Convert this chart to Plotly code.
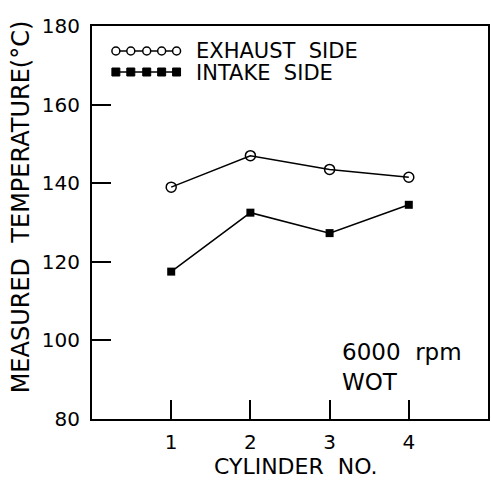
import plotly.graph_objects as go

cylinders = [1, 2, 3, 4]
exhaust_side = [139.0, 147.0, 143.5, 141.5]
intake_side = [117.5, 132.5, 127.3, 134.5]
y_ticks = [80, 100, 120, 140, 160, 180]
x_ticks = [1, 2, 3, 4]

FONT = "DejaVu Sans"
NB = "\u00a0"
fig = go.Figure()
fig.add_trace(go.Scatter(x=cylinders, y=exhaust_side, mode="lines+markers",
                         line=dict(color="black", width=1.5),
                         marker=dict(symbol="circle-open", size=10, color="black", line=dict(width=1.5)),
                         showlegend=False))
fig.add_trace(go.Scatter(x=cylinders, y=intake_side, mode="lines+markers",
                         line=dict(color="black", width=1.5),
                         marker=dict(symbol="square", size=8, color="black"),
                         showlegend=False))

L, R, T, B = 92, 490, 26, 419
def px_x(x):
    return (x - L) / (R - L)
def px_y(y):
    return 1 - (y - T) / (B - T)

shapes = []
for yy, kind in [(51, "circle"), (72, "square")]:
    shapes.append(dict(type="line", xref="paper", yref="paper",
                       x0=px_x(114), x1=px_x(180), y0=px_y(yy), y1=px_y(yy),
                       line=dict(color="black", width=1.5)))
    for cx in [116, 131, 147, 162, 177]:
        if kind == "circle":
            shapes.append(dict(type="circle", xref="paper", yref="paper",
                               x0=px_x(cx - 4), x1=px_x(cx + 4), y0=px_y(yy - 4), y1=px_y(yy + 4),
                               line=dict(color="black", width=1.5), fillcolor="white"))
        else:
            shapes.append(dict(type="rect", xref="paper", yref="paper",
                               x0=px_x(cx - 4), x1=px_x(cx + 4), y0=px_y(yy - 4), y1=px_y(yy + 4),
                               line=dict(color="black", width=1), fillcolor="black"))

annotations = [
    dict(text=f"EXHAUST{NB}{NB}SIDE", xref="paper", yref="paper", x=px_x(195), y=px_y(51),
         xanchor="left", yanchor="middle", showarrow=False, font=dict(size=21, color="black", family=FONT)),
    dict(text=f"INTAKE{NB}{NB}SIDE", xref="paper", yref="paper", x=px_x(195), y=px_y(73),
         xanchor="left", yanchor="middle", showarrow=False, font=dict(size=21, color="black", family=FONT)),
    dict(text=f"6000{NB}{NB}rpm<br>WOT", xref="paper", yref="paper", x=px_x(341), y=px_y(337),
         xanchor="left", yanchor="top", align="left", showarrow=False,
         font=dict(size=23, color="black", family=FONT)),
    dict(text=f"MEASURED{NB}{NB}TEMPERATURE(°C)", xref="paper", yref="paper", x=px_x(21), y=px_y(207),
         xanchor="center", yanchor="middle", textangle=-90, showarrow=False,
         font=dict(size=24, color="black", family=FONT)),
    dict(text=f"CYLINDER{NB}{NB}NO.", xref="paper", yref="paper", x=px_x(297), y=px_y(466),
         xanchor="center", yanchor="middle", showarrow=False,
         font=dict(size=22, color="black", family=FONT)),
]

fig.update_layout(
    width=491, height=482,
    margin=dict(l=L, r=491 - R, t=T, b=482 - B),
    paper_bgcolor="white", plot_bgcolor="white",
    font=dict(family=FONT, size=20, color="black"),
    shapes=shapes, annotations=annotations,
    xaxis=dict(range=[0, 5], tickvals=x_ticks, ticks="inside", ticklen=19, tickwidth=1.5,
               tickcolor="black", showline=True, linecolor="black", linewidth=2, mirror=True,
               showgrid=False, zeroline=False, ticklabelstandoff=4),
    yaxis=dict(range=[80, 180], tickvals=y_ticks, ticks="inside", ticklen=19, tickwidth=1.5,
               tickcolor="black", showline=True, linecolor="black", linewidth=2, mirror=True,
               showgrid=False, zeroline=False, ticklabelstandoff=6),
)
fig.write_html("out.html")
